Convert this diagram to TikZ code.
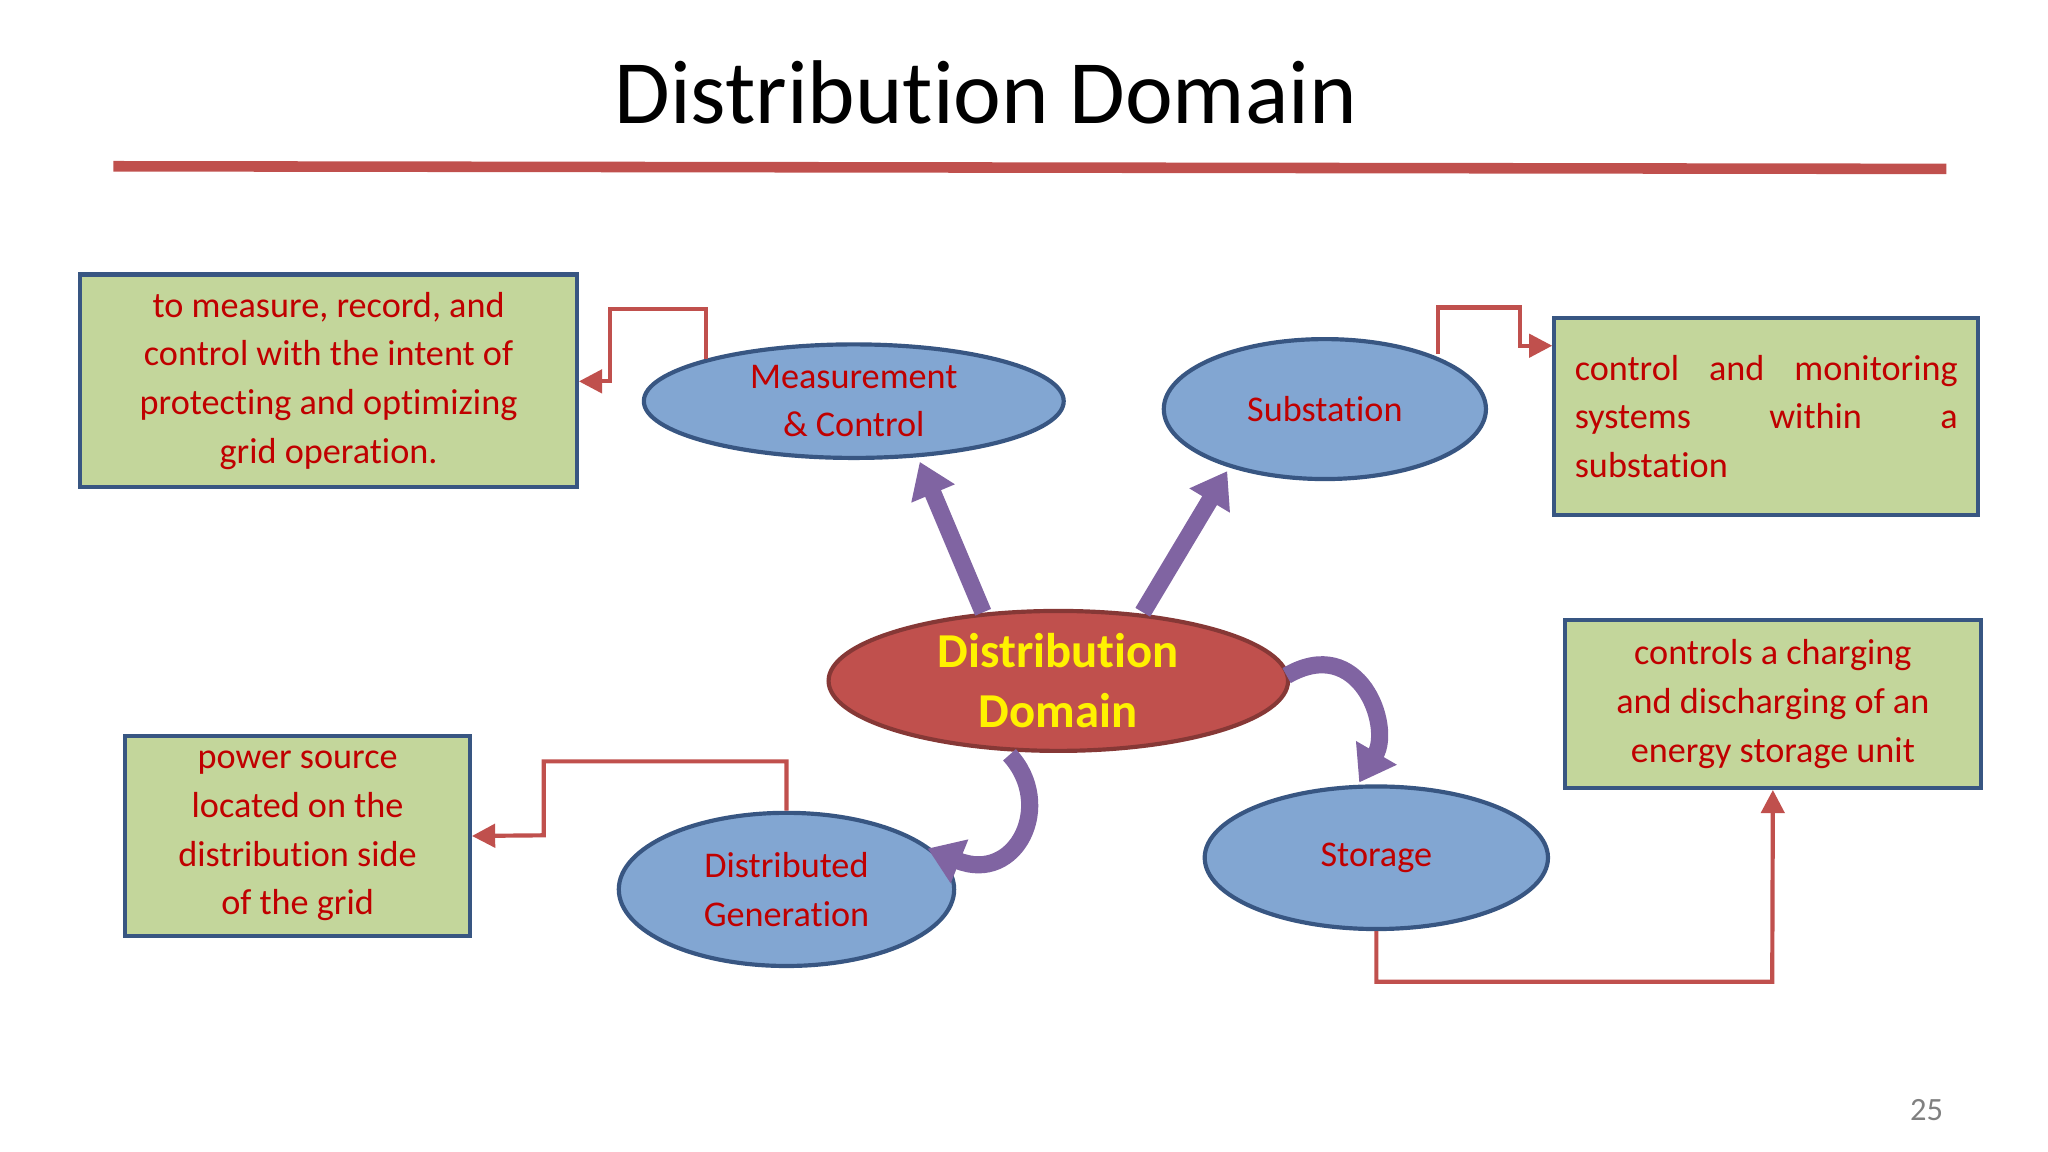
\documentclass[tikz,border=0pt]{standalone}
\usepackage{fontspec}
\setmainfont{Carlito}[Ligatures=NoCommon]
\usetikzlibrary{arrows.meta,shapes.geometric}
\definecolor{lred}{RGB}{192,80,77}
\definecolor{txtred}{RGB}{192,0,0}
\definecolor{gfill}{RGB}{195,214,155}
\definecolor{bblue}{RGB}{56,86,130}
\definecolor{efill}{RGB}{130,166,210}
\definecolor{purp}{RGB}{128,100,162}
\begin{document}
\begin{tikzpicture}[x=0.01cm,y=-0.01cm,
  box/.style={draw=bblue,fill=gfill,line width=0.9pt,text=txtred,font=\fontsize{7.8}{10.5}\selectfont,inner sep=0pt},
  ell/.style={ellipse,draw=bblue,fill=efill,line width=0.9pt,text=txtred,font=\fontsize{7.8}{10.5}\selectfont,align=center,inner sep=0pt},
  conn/.style={draw=lred,line width=0.9pt,-{Triangle[length=5pt,width=5pt]}},
  fat/.style={draw=purp,line width=0.13cm,-{Triangle[length=0.26cm,width=0.34cm]}}]
\useasboundingbox (0,0) rectangle (1552,873);
\node[font=\fontsize{19.5}{22}\selectfont] (title) at (747,70) {Distribution Domain};
\draw[lred,line width=0.08cm] (86,126) -- (1475,128);
% boxes
\node[box,minimum width=3.76cm,minimum height=1.61cm,align=center] (b1) at (249,288.5) {to measure, record, and\\ control with the intent of\\ protecting and optimizing\\ grid operation.};
\node[box,minimum width=3.21cm,minimum height=1.49cm,align=left] (b2) at (1338.5,315.5) {\makebox[2.9cm][s]{control and monitoring}\\ \makebox[2.9cm][s]{systems \hfill within \hfill a}\\ \makebox[2.9cm][l]{substation}};
\node[box,minimum width=2.61cm,minimum height=1.51cm,align=center] (b3) at (225.5,633.5) {power source\\ located on the\\ distribution side\\ of the grid};
\node[box,minimum width=3.15cm,minimum height=1.27cm,align=center] (b4) at (1343.5,533.5) {controls a charging\\ and discharging of an\\ energy storage unit};
% ellipses
\node[ell,minimum width=3.18cm,minimum height=0.86cm] (mc) at (647,304) {Measurement\\ \& Control};
\node[ell,minimum width=2.44cm,minimum height=1.06cm] (sub) at (1004,310) {Substation};
\node[ell,fill=lred,draw=lred!70!black,text=yellow,font=\bfseries\fontsize{10.5}{13}\selectfont,minimum width=3.48cm,minimum height=1.06cm] (dd) at (802,516) {Distribution\\ Domain};
\node[ell,minimum width=2.54cm,minimum height=1.16cm] (dg) at (596,674) {Distributed\\ Generation};
\node[ell,minimum width=2.6cm,minimum height=1.08cm] (st) at (1043,650) {Storage};
% red connectors
\coordinate (c1) at (535,272);
\draw[conn] (c1) -- (535,234) -- (462,234) -- (462,289) -- (b1.east|-462,289);
\coordinate (c2) at (1090,268);
\draw[conn] (c2) -- (1090,233) -- (1152,233) -- (1152,262) -- (b2.west|-1152,262);
\draw[conn] (dg.north) -- (596,577) -- (412,577) -- (412,633) -- (b3.east);
\draw[conn] (st.south) -- (1043,744) -- (1343,744) -- (b4.south);
% purple arrows
\coordinate (p1) at (745,464);
\coordinate (p2) at (866,464);
\draw[fat] (p1) -- (697,350);
\draw[fat] (p2) -- (930,357);
\coordinate (q1) at (975,512);
\coordinate (q2) at (1030,593);
\draw[fat] (q1) .. controls (1030,480) and (1055,550) .. (q2);
\coordinate (r1) at (765,572);
\coordinate (r2) at (703,643);
\draw[fat] (r1) .. controls (800,610) and (770,670) .. (r2);
\node[text=gray,font=\fontsize{7}{8}\selectfont] (pg) at (1460,841) {25};
\end{tikzpicture}
\end{document}
